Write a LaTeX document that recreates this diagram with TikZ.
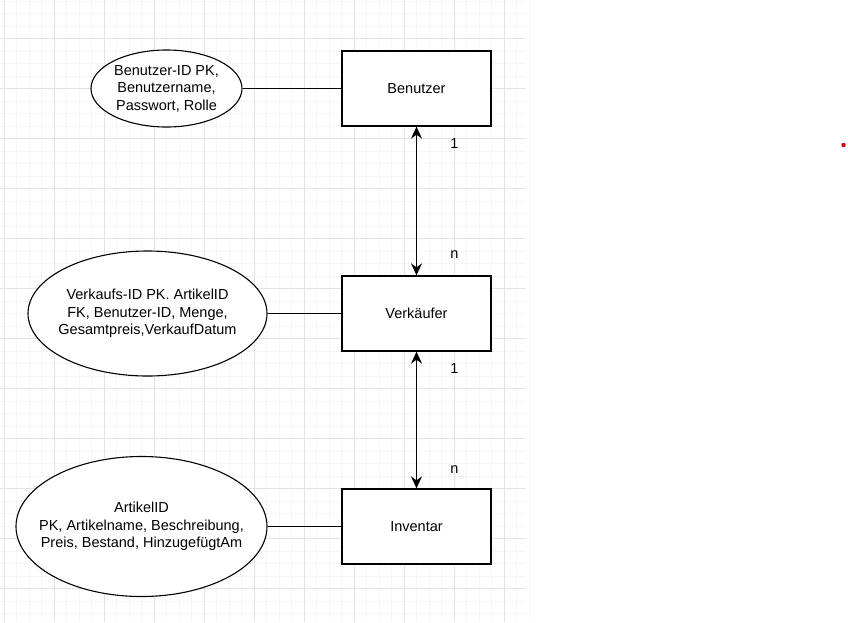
\documentclass[tikz,border=0pt]{standalone}
\usepackage{fontspec}
\setmainfont{Liberation Sans}
\usetikzlibrary{shapes.geometric,arrows.meta}
\begin{document}
\begin{tikzpicture}[x=1pt, y=-1pt,
    entity/.style={rectangle, draw, line width=1.3pt, fill=white, minimum width=149pt, minimum height=75pt, inner sep=0pt, font=\fontsize{14.5}{17.5}\selectfont},
    attrib/.style={ellipse, draw, line width=1.1pt, fill=white, inner sep=0pt},
    attribtext/.style={align=center, font=\fontsize{14.5}{17.5}\selectfont},
    link/.style={line width=1.1pt},
    rel/.style={{Stealth[length=12pt,width=11pt,inset=4pt]}-{Stealth[length=12pt,width=11pt,inset=4pt]}, line width=1.4pt},
    card/.style={font=\fontsize{14.5}{16}\selectfont}]

    \useasboundingbox (0,0) rectangle (848,622);
    \fill[white] (0,0) rectangle (848,622);

    % grid
    \foreach \gx in {0,...,42} {
        \draw[black!4, line width=1pt] ({4+12.5*\gx},0) -- ({4+12.5*\gx},622);
    }
    \foreach \gy in {0,...,49} {
        \draw[black!4, line width=1pt] (0,{1+12.5*\gy}) -- (526,{1+12.5*\gy});
    }
    \foreach \gx in {0,...,10} {
        \draw[black!11, line width=1pt] ({4+50*\gx},0) -- ({4+50*\gx},622);
    }
    \foreach \gy in {0,...,11} {
        \draw[black!11, line width=1pt] (0,{38.5+50*\gy}) -- (526,{38.5+50*\gy});
    }

    % entities
    \node[entity] (benutzer) at (416.5,88.5) {Benutzer};
    \node[entity] (verkaeufer) at (416.5,313.5) {Verkäufer};
    \node[entity] (inventar) at (416.5,526.5) {Inventar};

    % attributes
    \node[attrib, minimum width=151pt, minimum height=77pt,
        label={[attribtext]center:Benutzer-ID PK,\\Benutzername,\\Passwort, Rolle}] (benutzerattr) at (166.5,88.5) {};
    \node[attrib, minimum width=239pt, minimum height=125pt,
        label={[attribtext]center:Verkaufs-ID PK. ArtikelID\\FK, Benutzer-ID, Menge,\\Gesamtpreis,VerkaufDatum}] (verkaeuferattr) at (147.5,313.5) {};
    \node[attrib, minimum width=251pt, minimum height=140pt,
        label={[attribtext]center:ArtikelID\\PK, Artikelname, Beschreibung,\\Preis, Bestand, HinzugefügtAm}] (inventarattr) at (141.5,526.5) {};

    \draw[link] (benutzerattr) -- (benutzer);
    \draw[link] (verkaeuferattr) -- (verkaeufer);
    \draw[link] (inventarattr) -- (inventar);

    % relationships
    \draw[rel] (benutzer) -- node[card, pos=0.11, xshift=38pt] {1} node[card, pos=0.86, xshift=38pt] {n} (verkaeufer);
    \draw[rel] (verkaeufer) -- node[card, pos=0.12, xshift=38pt] {1} node[card, pos=0.86, xshift=38pt] {n} (inventar);

    % marker
    \fill[red!85!black] (843.5,145) circle (2.2pt);
\end{tikzpicture}
\end{document}
